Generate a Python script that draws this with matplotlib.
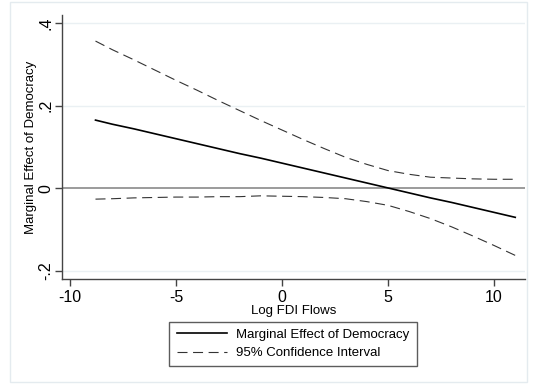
import matplotlib.pyplot as plt
from matplotlib.patches import Rectangle

plt.rcParams['font.family'] = ['Liberation Sans', 'DejaVu Sans']

# log FDI flows and the estimated marginal effect with its 95% band
fdi = [-8.8, -8, -7, -6, -5, -4, -3, -2, -1, 0, 1, 2, 3, 4, 5, 6, 7, 8, 9, 10, 11]
effect = [0.165, 0.155, 0.144, 0.132, 0.120, 0.108, 0.096, 0.084, 0.073, 0.061, 0.049,
          0.037, 0.025, 0.013, 0.001, -0.011, -0.023, -0.034, -0.046, -0.058, -0.070]
ci_upper = [0.356, 0.335, 0.311, 0.286, 0.261, 0.237, 0.212, 0.188, 0.164, 0.141, 0.118,
            0.096, 0.075, 0.058, 0.043, 0.034, 0.027, 0.025, 0.023, 0.022, 0.022]
ci_lower = [-0.026, -0.025, -0.023, -0.022, -0.021, -0.021, -0.020, -0.020, -0.018, -0.019, -0.020,
            -0.022, -0.025, -0.032, -0.041, -0.056, -0.073, -0.093, -0.115, -0.138, -0.162]

xticks = [-10, -5, 0, 5, 10]
yticks = [-0.2, 0, 0.2, 0.4]
ytick_labels = ['-.2', '0', '.2', '.4']

fig = plt.figure(figsize=(5.33, 3.85), dpi=100)
fig.patches.append(Rectangle((10 / 533, 3 / 385), 517 / 533, 380 / 385, transform=fig.transFigure,
                             fill=False, edgecolor='#e4ebef', linewidth=1))

ax = fig.add_axes([62 / 533, 1 - 279 / 385, 463 / 533, 264 / 385])

for y in [-0.2, 0.2, 0.4]:
    ax.axhline(y, color='#eaf0f3', linewidth=1, zorder=0)
ax.axhline(0, color='#8a8a8a', linewidth=1.2, zorder=1)

ax.plot(fdi, effect, color='black', linewidth=1.2, label='Marginal Effect of Democracy', zorder=3)
ax.plot(fdi, ci_upper, color='#333333', linewidth=0.8, dashes=(9, 5),
        label='95% Confidence Interval', zorder=2)
ax.plot(fdi, ci_lower, color='#333333', linewidth=0.8, dashes=(9, 5), zorder=2)

ax.set_xlim(-10.38, 11.46)
ax.set_ylim(-0.219, 0.419)
ax.set_xticks(xticks)
ax.set_xticklabels([str(t) for t in xticks])
ax.set_yticks(yticks)
ax.set_yticklabels(ytick_labels, rotation=90, va='center')

for side in ['top', 'right']:
    ax.spines[side].set_visible(False)
for side in ['left', 'bottom']:
    ax.spines[side].set_color('#444444')
    ax.spines[side].set_linewidth(1)
ax.tick_params(direction='out', length=5, width=1, color='#444444', labelsize=11.5)
ax.tick_params(axis='x', pad=3)
ax.tick_params(axis='y', pad=1)

ax.set_xlabel('Log FDI Flows', fontsize=9.5, labelpad=0)
ax.set_ylabel('Marginal Effect of Democracy', fontsize=9.5, labelpad=1)

leg = fig.legend(loc='center', bbox_to_anchor=(293 / 533, 1 - 344 / 385), fontsize=9.5,
                 frameon=True, fancybox=False, handlelength=3.8, borderpad=0.55,
                 labelspacing=0.45, handletextpad=0.7)
leg.get_frame().set_edgecolor('#333333')
leg.get_frame().set_linewidth(1)

fig.savefig('out.png', dpi=100)
